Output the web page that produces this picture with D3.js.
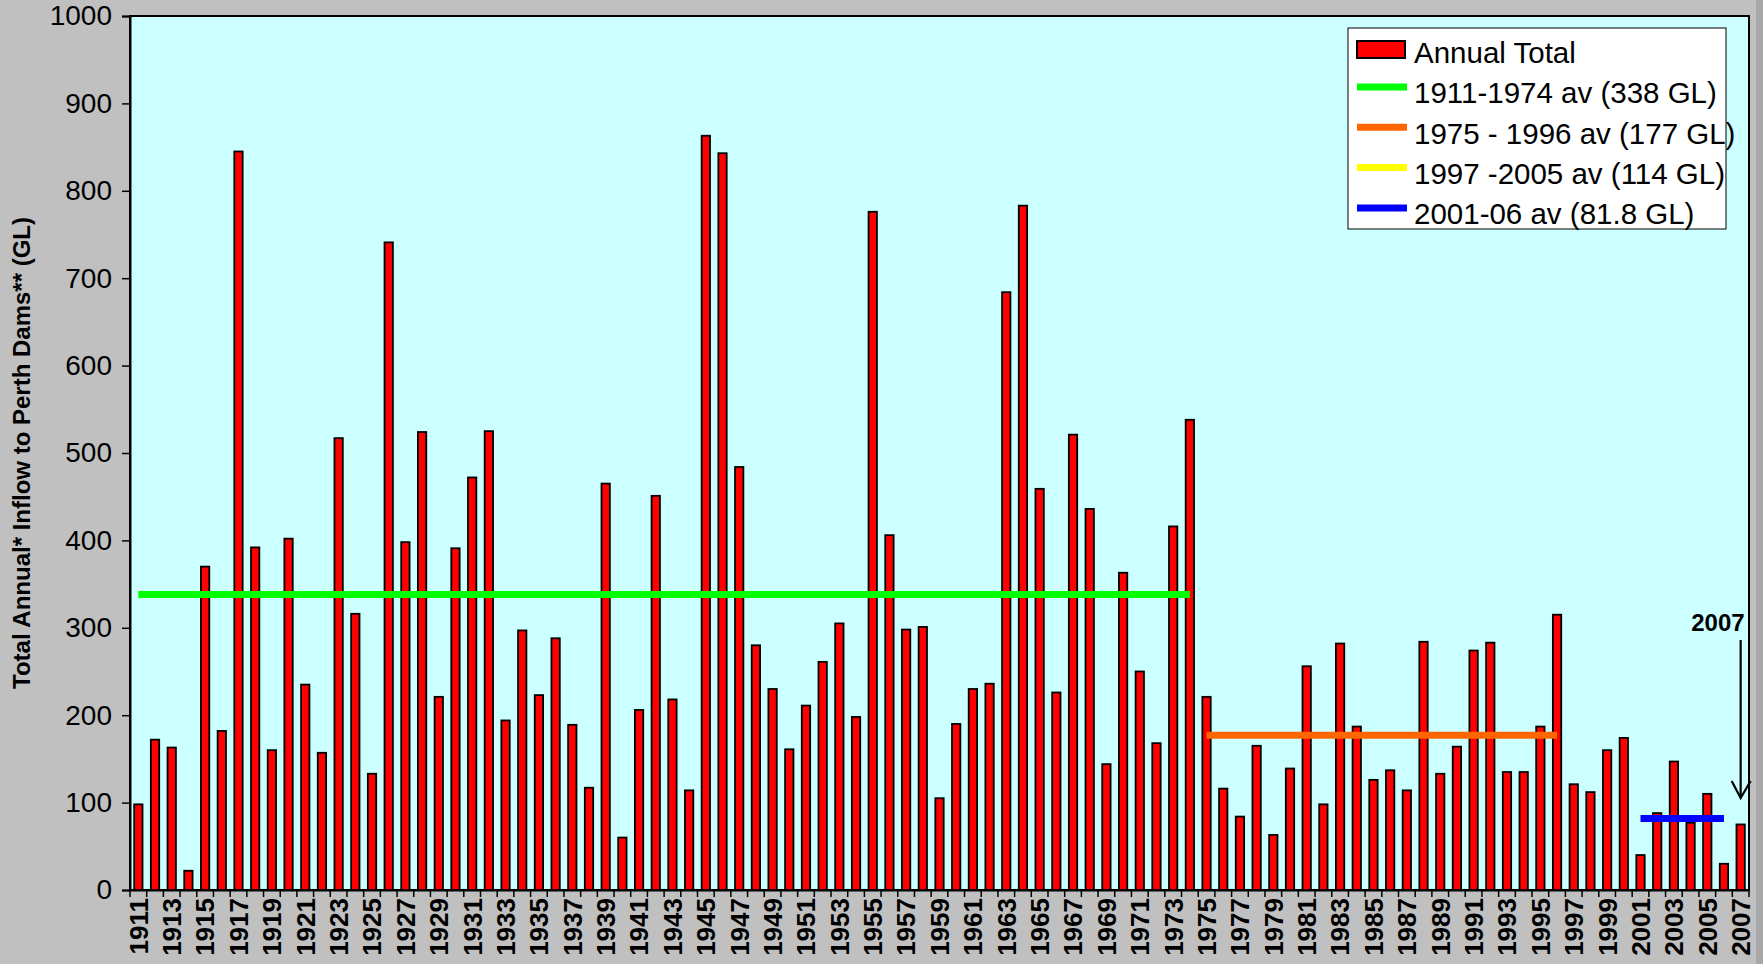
<!DOCTYPE html>
<html>
<head>
<meta charset="utf-8">
<script src="https://cdn.jsdelivr.net/npm/d3@7"></script>
<style>
  html, body { margin: 0; padding: 0; background: #C0C0C0; }
  svg { display: block; }
  text { font-family: "Liberation Sans", Arial, sans-serif; fill: #000; }
</style>
</head>
<body>
<svg id="chart" width="1763" height="964"></svg>
<script>
// ---------- DATA ----------
const years = [
  1911,1912,1913,1914,1915,1916,1917,1918,1919,1920,
  1921,1922,1923,1924,1925,1926,1927,1928,1929,1930,
  1931,1932,1933,1934,1935,1936,1937,1938,1939,1940,
  1941,1942,1943,1944,1945,1946,1947,1948,1949,1950,
  1951,1952,1953,1954,1955,1956,1957,1958,1959,1960,
  1961,1962,1963,1964,1965,1966,1967,1968,1969,1970,
  1971,1972,1973,1974,1975,1976,1977,1978,1979,1980,
  1981,1982,1983,1984,1985,1986,1987,1988,1989,1990,
  1991,1992,1993,1994,1995,1996,1997,1998,1999,2000,
  2001,2002,2003,2004,2005,2006,2007
];
const inflow = [
  98,172,163,22,370,182,845,392,160,402,
  235,157,517,316,133,741,398,524,221,391,
  472,525,194,297,223,288,189,117,465,60,
  206,451,218,114,863,843,484,280,230,161,
  211,261,305,198,776,406,298,301,105,190,
  230,236,684,783,459,226,521,436,144,363,
  250,168,416,538,221,116,84,165,63,139,
  256,98,282,187,126,137,114,284,133,164,
  274,283,135,135,187,315,121,112,160,174,
  40,88,147,77,110,30,75
];
const avgLabels = ["1911-1974 av (338 GL)", "1975 - 1996 av (177 GL)", "1997 -2005 av (114 GL)", "2001-06 av (81.8 GL)"];
const avgValues = [338, 177, 114, 81.8];
const avgStart  = [1911, 1975, 1997, 2001];
const avgEnd    = [1974, 1996, 2005, 2006];
const avgShown  = [true, true, false, true];
const yTicks = [0,100,200,300,400,500,600,700,800,900,1000];
const barLabel = "Annual Total";
const yTitle = "Total Annual* Inflow to Perth Dams** (GL)";
const annotationText = "2007";
const annotationYear = 2007;

// ---------- STYLE ----------
const avgColors = ["#00FF00", "#FF6600", "#FFFF00", "#0000FF"];
const M = { left: 130, right: 1749, top: 16, bottom: 890 };

const svg = d3.select("#chart");

// background
svg.append("rect").attr("width", 1763).attr("height", 964).attr("fill", "#C0C0C0");
svg.append("rect").attr("x", 1756).attr("y", 0).attr("width", 7).attr("height", 964).attr("fill", "#A8A8A8");

// plot area
svg.append("rect")
  .attr("x", M.left).attr("y", M.top)
  .attr("width", M.right - M.left).attr("height", M.bottom - M.top)
  .attr("fill", "#CCFFFF").attr("stroke", "#000").attr("stroke-width", 2);

const x = d3.scaleBand().domain(years).range([M.left, M.right]).padding(0);
const y = d3.scaleLinear().domain([0, 1000]).range([M.bottom, M.top]);
const bw = x.bandwidth();
const barW = bw * 0.5;

// bars
svg.append("g").selectAll("rect")
  .data(years.map((yr, i) => ({ yr, v: inflow[i] })))
  .join("rect")
  .attr("x", d => x(d.yr) + (bw - barW) / 2)
  .attr("y", d => y(d.v))
  .attr("width", barW)
  .attr("height", d => y(0) - y(d.v))
  .attr("fill", "#FF0000")
  .attr("stroke", "#000")
  .attr("stroke-width", 1.8);

// average lines
const lineGen = d3.line().x(d => x(d[0]) + bw / 2).y(d => y(d[1]));
avgValues.forEach((v, i) => {
  if (!avgShown[i]) return;
  svg.append("path")
    .attr("d", lineGen([[avgStart[i], v], [avgEnd[i], v]]))
    .attr("stroke", avgColors[i]).attr("stroke-width", 7).attr("fill", "none");
});

// Y axis
const yAxis = svg.append("g")
  .attr("transform", `translate(${M.left},0)`)
  .call(d3.axisLeft(y).tickValues(yTicks).tickSize(8).tickPadding(10).tickFormat(d3.format("d")));
yAxis.select(".domain").attr("stroke", "#000").attr("stroke-width", 2);
yAxis.selectAll(".tick line").attr("stroke", "#000").attr("stroke-width", 1.5);
yAxis.selectAll(".tick text")
  .style("font-family", '"Liberation Sans", Arial, sans-serif')
  .style("font-size", "28px").attr("fill", "#000");

// X axis (labels)
const xAxis = svg.append("g")
  .attr("transform", `translate(0,${M.bottom})`)
  .call(d3.axisBottom(x).tickSize(0).tickFormat((d, i) => (i % 2 === 0 ? String(d) : "")));
xAxis.select(".domain").attr("stroke", "#000").attr("stroke-width", 2);
xAxis.selectAll(".tick text")
  .attr("transform", "rotate(-90)")
  .attr("text-anchor", "end")
  .attr("x", -8).attr("y", 0).attr("dy", "0.36em")
  .style("font-family", '"Liberation Sans", Arial, sans-serif')
  .style("font-size", "26px").style("font-weight", "bold").attr("fill", "#000");

// X tick marks at category boundaries
const boundaries = years.map(yr => x(yr)).concat([x(years[years.length - 1]) + bw]);
svg.append("g").selectAll("line").data(boundaries).join("line")
  .attr("x1", d => d).attr("x2", d => d)
  .attr("y1", M.bottom).attr("y2", M.bottom + 7)
  .attr("stroke", "#000").attr("stroke-width", 1.5);

// Y title
svg.append("text")
  .attr("transform", `translate(30,${(M.top + M.bottom) / 2}) rotate(-90)`)
  .attr("text-anchor", "middle")
  .style("font-size", "24px").style("font-weight", "bold")
  .text(yTitle);

// Legend
const lg = svg.append("g").attr("transform", "translate(1348,28)");
lg.append("rect").attr("width", 378).attr("height", 201)
  .attr("fill", "#FFFFFF").attr("stroke", "#000").attr("stroke-width", 1);
lg.append("rect").attr("x", 9).attr("y", 13).attr("width", 48).attr("height", 17)
  .attr("fill", "#FF0000").attr("stroke", "#000").attr("stroke-width", 2);
lg.append("text").attr("x", 66).attr("y", 25).attr("dy", "0.35em")
  .style("font-size", "29.5px").text(barLabel);
avgLabels.forEach((lab, i) => {
  const cy = 65 + i * 40.3;
  lg.append("line").attr("x1", 9).attr("x2", 59).attr("y1", cy - 6).attr("y2", cy - 6)
    .attr("stroke", avgColors[i]).attr("stroke-width", 7);
  lg.append("text").attr("x", 66).attr("y", cy).attr("dy", "0.35em")
    .style("font-size", "29.5px").text(lab);
});

// Annotation 2007 with arrow
const ax = x(annotationYear) + bw / 2;
svg.append("text").attr("x", ax + 4).attr("y", 631).attr("text-anchor", "end")
  .style("font-size", "24px").style("font-weight", "bold").text(annotationText);
svg.append("line").attr("x1", ax).attr("x2", ax).attr("y1", 640).attr("y2", 798)
  .attr("stroke", "#000").attr("stroke-width", 2.2);
svg.append("path")
  .attr("d", `M${ax - 9},781 L${ax},798 L${ax + 10},781`)
  .attr("stroke", "#000").attr("stroke-width", 2.2).attr("fill", "none");
</script>
</body>
</html>
